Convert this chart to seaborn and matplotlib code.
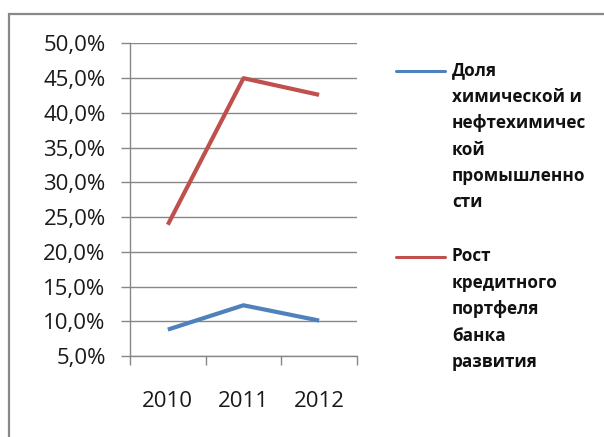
import numpy as np
import pandas as pd
import matplotlib
matplotlib.use("Agg")
import matplotlib.pyplot as plt
import seaborn as sns
from matplotlib.lines import Line2D
from matplotlib.patches import Rectangle

# --- DATA ---
years = [2010, 2011, 2012]
chem_share = [8.8, 12.3, 10.1]
credit_growth = [23.9, 45.0, 42.6]
series_names = [
    "Доля\nхимической и\nнефтехимичес\nкой\nпромышленно\nсти",
    "Рост\nкредитного\nпортфеля\nбанка\nразвития",
]
series_colors = ["#4F81BD", "#C0504D"]
y_ticks = [5, 10, 15, 20, 25, 30, 35, 40, 45, 50]

# --- STYLE ---
sns.set_style("white")
plt.rcParams["font.family"] = ["Open Sans", "DejaVu Sans"]
GRID = "#878787"

df = pd.DataFrame({
    "year": years * 2,
    "value": chem_share + credit_growth,
    "series": [series_names[0]] * 3 + [series_names[1]] * 3,
})

fig = plt.figure(figsize=(6.04, 4.37), dpi=100)
ax = fig.add_axes([0.2152, 0.1854, 0.591 - 0.2152, 0.9005 - 0.1854])

sns.lineplot(data=df, x="year", y="value", hue="series", palette=series_colors,
             linewidth=3.0, legend=False, ax=ax, sort=False)
for ln in ax.lines:
    ln.set_solid_capstyle("butt")

# y axis
ax.set_ylim(5, 50)
ax.set_yticks(y_ticks)
ax.set_yticklabels([f"{v:.1f}%".replace(".", ",") for v in y_ticks])
ax.yaxis.grid(True, color=GRID, linewidth=1.0)
ax.set_axisbelow(True)

# x axis: ticks between categories, labels at categories
ax.set_xlim(years[0] - 0.5, years[-1] + 0.5)
ax.set_xticks([y - 0.5 for y in years] + [years[-1] + 0.5])
ax.set_xticklabels([])
ax.set_xticks(years, minor=True)
ax.set_xticklabels([str(y) for y in years], minor=True)
ax.tick_params(axis="x", which="major", direction="out", length=6.5, width=1.0,
               color=GRID, bottom=True)
ax.tick_params(axis="x", which="minor", length=0, pad=25, labelsize=16,
               labelcolor="#1a1a1a")
ax.tick_params(axis="y", direction="out", length=6.5, width=1.0, color=GRID,
               left=True, pad=11, labelsize=16, labelcolor="#1a1a1a")
ax.set_xlabel("")
ax.set_ylabel("")

for side in ["top", "right"]:
    ax.spines[side].set_visible(False)
for side in ["left", "bottom"]:
    ax.spines[side].set_color(GRID)
    ax.spines[side].set_linewidth(1.0)

# legend drawn beside the plot, handle aligned with first line of label
legend_y = [0.8375, 0.412]
for name, color, ly in zip(series_names, series_colors, legend_y):
    fig.add_artist(Line2D([0.656, 0.737], [ly, ly], color=color, linewidth=2.2,
                          transform=fig.transFigure))
    fig.text(0.748, ly + 0.022, name, ha="left", va="top", fontsize=12.3,
             fontweight="bold", color="#111111", linespacing=1.6)

# outer chart border
fig.add_artist(Rectangle((8.5 / 604, -0.05), 1.2, 1 - 14 / 437 + 0.05,
                         transform=fig.transFigure, fill=False,
                         edgecolor="#888888", linewidth=1.6))

fig.savefig("out.png", dpi=100)
